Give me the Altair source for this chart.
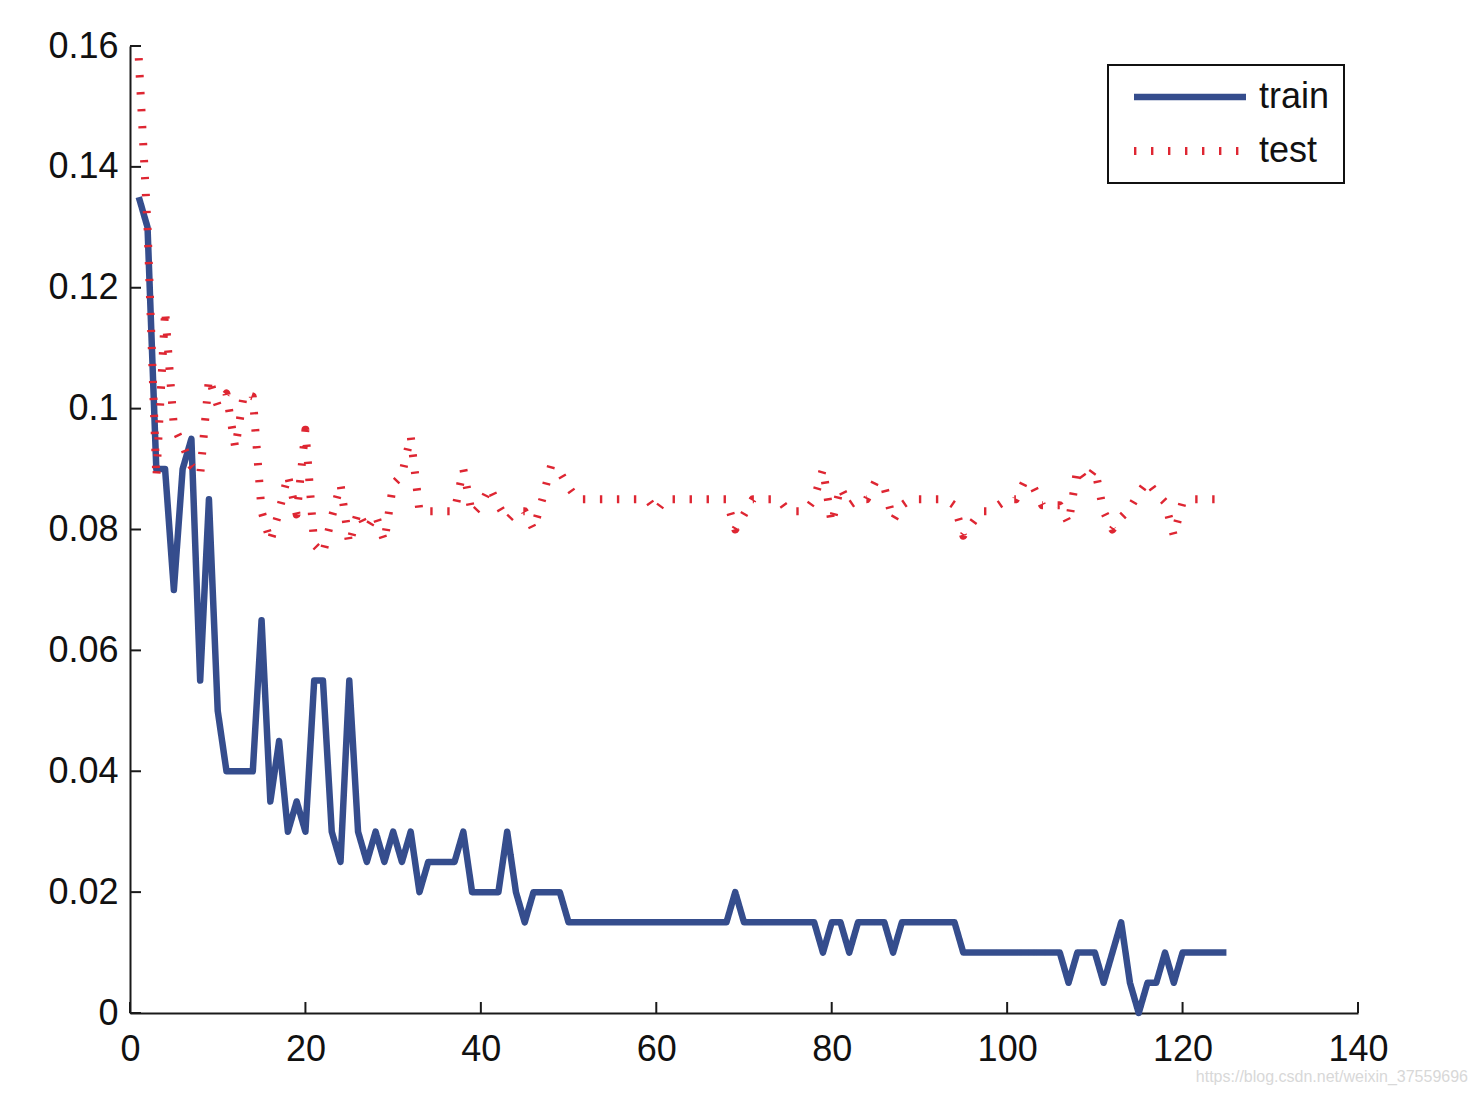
import altair as alt
import pandas as pd

# ---------------- data ----------------
epochs = list(range(1, 126))

train_loss = [
    0.135, 0.13, 0.09, 0.09, 0.07, 0.09, 0.095, 0.055, 0.085, 0.05,
    0.04, 0.04, 0.04, 0.04, 0.065, 0.035, 0.045, 0.03, 0.035, 0.03,
    0.055, 0.055, 0.03, 0.025, 0.055, 0.03, 0.025, 0.03, 0.025, 0.03,
    0.025, 0.03, 0.02, 0.025, 0.025, 0.025, 0.025, 0.03, 0.02, 0.02,
    0.02, 0.02, 0.03, 0.02, 0.015, 0.02, 0.02, 0.02, 0.02, 0.015,
    0.015, 0.015, 0.015, 0.015, 0.015, 0.015, 0.015, 0.015, 0.015, 0.015,
    0.015, 0.015, 0.015, 0.015, 0.015, 0.015, 0.015, 0.015, 0.02, 0.015,
    0.015, 0.015, 0.015, 0.015, 0.015, 0.015, 0.015, 0.015, 0.01, 0.015,
    0.015, 0.01, 0.015, 0.015, 0.015, 0.015, 0.01, 0.015, 0.015, 0.015,
    0.015, 0.015, 0.015, 0.015, 0.01, 0.01, 0.01, 0.01, 0.01, 0.01,
    0.01, 0.01, 0.01, 0.01, 0.01, 0.01, 0.005, 0.01, 0.01, 0.01,
    0.005, 0.01, 0.015, 0.005, 0.0, 0.005, 0.005, 0.01, 0.005, 0.01,
    0.01, 0.01, 0.01, 0.01, 0.01,
]

test_loss = [
    0.158, 0.13, 0.0885, 0.1163, 0.097, 0.094, 0.0905, 0.089, 0.105, 0.1005,
    0.1025, 0.0935, 0.1025, 0.102, 0.083, 0.078, 0.083, 0.089, 0.0825, 0.0965,
    0.0775, 0.076, 0.082, 0.0875, 0.0775, 0.083, 0.080, 0.0825, 0.078, 0.0875,
    0.089, 0.0955, 0.083, 0.083, 0.083, 0.083, 0.083, 0.090, 0.0825, 0.084,
    0.087, 0.084, 0.0815, 0.083, 0.083, 0.080, 0.085, 0.0905, 0.0895, 0.087,
    0.085, 0.085, 0.085, 0.085, 0.085, 0.085, 0.085, 0.085, 0.085, 0.083,
    0.085, 0.085, 0.085, 0.085, 0.085, 0.085, 0.085, 0.085, 0.080, 0.0825,
    0.085, 0.085, 0.085, 0.085, 0.083, 0.083, 0.083, 0.085, 0.090, 0.081,
    0.087, 0.084, 0.085, 0.085, 0.088, 0.087, 0.0815, 0.084, 0.085, 0.085,
    0.085, 0.085, 0.085, 0.084, 0.079, 0.081, 0.083, 0.083, 0.084, 0.085,
    0.085, 0.088, 0.087, 0.084, 0.084, 0.084, 0.081, 0.090, 0.088, 0.090,
    0.083, 0.080, 0.082, 0.0835, 0.086, 0.088, 0.086, 0.0845, 0.079, 0.0845,
    0.085, 0.085, 0.085, 0.085, 0.085,
]

series_names = ["train", "test"]
x_ticks = [0, 20, 40, 60, 80, 100, 120, 140]
y_ticks = [0, 0.02, 0.04, 0.06, 0.08, 0.1, 0.12, 0.14, 0.16]
watermark = "https://blog.csdn.net/weixin_37559696"

# ---------------- styling constants ----------------
W, H = 1228, 967
X_DOMAIN = [0, 140]
Y_DOMAIN = [0, 0.16]
FONT = "Liberation Sans"
TRAIN_COLOR = "#354D8D"
TEST_COLOR = "#DE2632"
TICK_PX = 11
tick_dx = TICK_PX * (X_DOMAIN[1] - X_DOMAIN[0]) / W
tick_dy = TICK_PX * (Y_DOMAIN[1] - Y_DOMAIN[0]) / H

df = pd.DataFrame({
    "epoch": epochs * 2,
    "loss": train_loss + test_loss,
    "series": [series_names[0]] * len(train_loss) + [series_names[1]] * len(test_loss),
    "order": list(range(len(train_loss))) + list(range(len(test_loss))),
})

xscale = alt.Scale(domain=X_DOMAIN, nice=False, zero=False)
yscale = alt.Scale(domain=Y_DOMAIN, nice=False, zero=False)

x_axis = alt.Axis(values=x_ticks, tickSize=0, grid=False, title=None,
                  domainColor="#1a1a1a", domainWidth=2, labelFontSize=36,
                  labelFont=FONT, labelColor="#111111", labelPadding=19,
                  labelFlush=False, labelOverlap=False)
y_axis = alt.Axis(values=y_ticks, tickSize=0, grid=False, title=None, format="~g",
                  domainColor="#1a1a1a", domainWidth=2, labelFontSize=36,
                  labelFont=FONT, labelColor="#111111", labelPadding=12,
                  labelFlush=False, labelOverlap=False)

lines = alt.Chart(df).mark_line(strokeJoin="round", strokeCap="butt").encode(
    x=alt.X("epoch:Q", scale=xscale, axis=x_axis),
    y=alt.Y("loss:Q", scale=yscale, axis=y_axis),
    color=alt.Color("series:N",
                    scale=alt.Scale(domain=series_names, range=[TRAIN_COLOR, TEST_COLOR]),
                    sort=series_names,
                    legend=alt.Legend(title=None, orient="none", legendX=978, legendY=19,
                                      symbolType="stroke", symbolSize=12544,
                                      symbolStrokeWidth=7, labelFontSize=36,
                                      labelFont=FONT, labelColor="#111111",
                                      clipHeight=36,
                                      labelOffset=9, padding=14, rowPadding=18,
                                      symbolOffset=8, strokeColor="#111111",
                                      fillColor="white")),
    strokeDash=alt.StrokeDash("series:N",
                              scale=alt.Scale(domain=series_names, range=[[1, 0], [2.4, 14.6]]),
                              sort=series_names, legend=alt.Legend(title=None)),
    strokeWidth=alt.StrokeWidth("series:N",
                                scale=alt.Scale(domain=series_names, range=[6.5, 8]),
                                legend=None),
    detail="series:N",
    order="order:Q",
)

xt = pd.DataFrame({"x": x_ticks, "y0": [0.0] * len(x_ticks), "y1": [tick_dy] * len(x_ticks)})
yt = pd.DataFrame({"y": y_ticks, "x0": [0.0] * len(y_ticks), "x1": [tick_dx] * len(y_ticks)})

xticks = alt.Chart(xt).mark_rule(color="#1a1a1a", strokeWidth=2).encode(
    x=alt.X("x:Q", scale=xscale), y=alt.Y("y0:Q", scale=yscale), y2="y1:Q")
yticks = alt.Chart(yt).mark_rule(color="#1a1a1a", strokeWidth=2).encode(
    y=alt.Y("y:Q", scale=yscale), x=alt.X("x0:Q", scale=xscale), x2="x1:Q")

chart = alt.layer(xticks, yticks, lines).properties(
    width=W, height=H,
    autosize=alt.AutoSizeParams(type="none"),
    padding={"left": 130, "top": 46, "right": 120, "bottom": 83},
    title=alt.TitleParams(watermark, orient="bottom", anchor="end", frame="group",
                          dx=110, dy=-2, fontSize=16, font=FONT,
                          fontWeight="normal", color="#d8d8d8"),
).configure_view(stroke=None).configure_legend(strokeWidth=2)

chart.save("out.html", embed_options={"renderer": "svg", "actions": False})
